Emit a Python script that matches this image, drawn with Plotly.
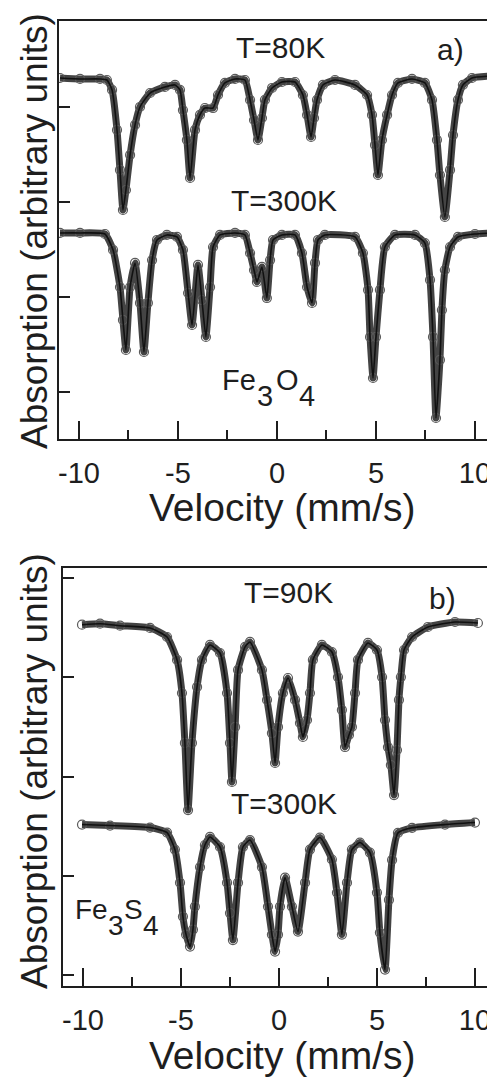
import plotly.graph_objects as go

# ---------------- data ----------------
# Panel a) Fe3O4, T = 80 K
v_a80 = [-10.96, -9.95, -8.94, -8.59, -8.33, -8.08, -7.93, -7.78, -7.63, -7.42, -7.17, -6.92,
         -6.41, -5.66, -5.15, -4.90, -4.75, -4.55, -4.39, -4.14, -3.89, -3.64, -3.23, -2.98,
         -2.63, -2.12, -1.62, -1.36, -1.16, -0.96, -0.76, -0.61, -0.25, 0.25, 0.91, 1.31,
         1.52, 1.72, 1.87, 2.02, 2.32, 2.93, 3.94, 4.55, 4.80, 4.95, 5.10, 5.30, 5.56, 5.81,
         6.11, 6.82, 7.47, 7.83, 8.08, 8.23, 8.48, 8.74, 8.89, 9.14, 9.39, 9.85, 10.86]
a_a80 = [4.305, 4.295, 4.295, 4.284, 4.179, 3.758, 3.337, 2.916, 3.126, 3.495, 3.811, 4.000,
         4.147, 4.211, 4.232, 4.179, 3.968, 3.653, 3.253, 3.758, 3.916, 3.989, 3.989, 4.126,
         4.253, 4.295, 4.284, 4.074, 3.863, 3.653, 3.884, 4.074, 4.200, 4.263, 4.263, 4.126,
         3.916, 3.684, 3.884, 4.074, 4.232, 4.284, 4.232, 4.126, 3.916, 3.600, 3.284, 3.653,
         3.916, 4.126, 4.253, 4.295, 4.253, 4.074, 3.653, 3.284, 2.842, 3.337, 3.705, 4.074,
         4.232, 4.305, 4.326]

# Panel a) Fe3O4, T = 300 K
v_a300 = [-10.96, -9.95, -8.69, -8.28, -7.93, -7.78, -7.63, -7.42, -7.17, -6.92, -6.72, -6.52,
          -6.31, -6.06, -5.56, -5.05, -4.75, -4.49, -4.29, -3.99, -3.79, -3.59, -3.38, -3.23,
          -2.88, -2.12, -1.62, -1.36, -1.16, -1.01, -0.76, -0.51, -0.35, -0.20, 0.25, 0.91,
          1.26, 1.52, 1.77, 1.92, 2.07, 2.42, 3.94, 4.34, 4.60, 4.70, 4.85, 5.00, 5.20, 5.45,
          5.96, 6.97, 7.47, 7.73, 7.88, 8.03, 8.23, 8.33, 8.48, 8.74, 9.14, 10.00, 10.86]
a_a300 = [2.674, 2.674, 2.663, 2.495, 2.105, 1.758, 1.442, 2.105, 2.358, 1.937, 1.421, 1.937,
          2.389, 2.600, 2.653, 2.632, 2.495, 2.042, 1.705, 2.337, 1.968, 1.579, 2.105, 2.526,
          2.653, 2.674, 2.653, 2.463, 2.284, 2.158, 2.316, 1.989, 2.389, 2.600, 2.653, 2.653,
          2.463, 2.105, 1.937, 2.358, 2.600, 2.653, 2.632, 2.463, 2.074, 1.579, 1.147, 1.579,
          2.074, 2.526, 2.653, 2.653, 2.568, 2.179, 1.579, 0.726, 1.337, 1.863, 2.284, 2.526,
          2.632, 2.663, 2.674]

# Panel b) Fe3S4, T = 90 K
v_b90 = [-10.05, -9.13, -8.11, -6.58, -5.71, -5.20, -4.95, -4.80, -4.64, -4.44, -4.18, -3.93,
         -3.52, -3.01, -2.65, -2.50, -2.40, -2.24, -2.09, -1.73, -1.48, -0.87, -0.61, -0.36,
         -0.20, -0.05, 0.20, 0.46, 0.82, 1.07, 1.22, 1.43, 1.58, 1.73, 2.19, 2.70, 3.01, 3.21,
         3.37, 3.57, 3.72, 3.88, 4.03, 4.54, 5.00, 5.26, 5.41, 5.56, 5.71, 5.87, 6.02, 6.12,
         6.22, 6.38, 6.79, 7.60, 8.98, 10.15]
a_b90 = [4.529, 4.539, 4.519, 4.496, 4.405, 4.174, 3.841, 3.338, 2.662, 3.338, 3.902, 4.174,
         4.325, 4.244, 3.841, 3.338, 2.945, 3.499, 4.073, 4.305, 4.355, 4.073, 3.771, 3.438,
         3.136, 3.499, 3.841, 3.992, 3.771, 3.539, 3.398, 3.569, 3.841, 4.174, 4.325, 4.254,
         4.002, 3.670, 3.297, 3.418, 3.499, 3.841, 4.174, 4.345, 4.274, 4.002, 3.569, 3.297,
         3.116, 2.813, 3.267, 3.771, 4.002, 4.274, 4.405, 4.506, 4.556, 4.546]

# Panel b) Fe3S4, T = 300 K
v_b300 = [-10.05, -8.62, -6.58, -5.71, -5.31, -5.05, -4.90, -4.74, -4.54, -4.39, -4.29, -4.03,
          -3.78, -3.52, -3.01, -2.65, -2.50, -2.35, -2.09, -1.84, -1.48, -0.87, -0.56, -0.36,
          -0.20, -0.05, 0.05, 0.31, 0.66, 0.97, 1.33, 1.58, 2.09, 2.70, 2.96, 3.21, 3.47, 3.72,
          4.13, 4.64, 5.00, 5.15, 5.41, 5.61, 5.77, 6.07, 6.79, 8.47, 10.00]
a_b300 = [2.516, 2.506, 2.486, 2.435, 2.264, 1.931, 1.589, 1.408, 1.287, 1.458, 1.690, 2.088,
          2.310, 2.391, 2.290, 1.931, 1.625, 1.353, 1.931, 2.290, 2.360, 2.088, 1.690, 1.408,
          1.237, 1.408, 1.690, 1.982, 1.690, 1.438, 1.931, 2.264, 2.385, 2.164, 1.831, 1.408,
          1.931, 2.264, 2.335, 2.234, 1.831, 1.428, 1.055, 1.757, 2.160, 2.432, 2.483, 2.516,
          2.536]

x_tickvals = [-10, -5, 0, 5, 10]
x_ticktext = ["-10", "-5", "0", "5", "10"]
ya_tickvals = [1, 2, 3, 4]
yb_tickvals = [1, 2, 3, 4, 5]

panel_labels = ["a)", "b)"]
temps_a = ["T=80K", "T=300K"]
temps_b = ["T=90K", "T=300K"]
x_title = "Velocity (mm/s)"
y_title = "Absorption (arbitrary units)"

# ---------------- figure ----------------
# the page body has an 8 px margin, so the figure is drawn 8 px smaller
OFF = 8
W, H = 495 - OFF, 1077 - OFF
INK = "#1e1e1e"
FONT = "Liberation Sans, Arial, Helvetica, sans-serif"


def px(x, y):
    """screen pixel of the reference -> paper fraction"""
    return (x - OFF) / W, 1 - (y - OFF) / H


fig = go.Figure()


def add_spectrum(v, a, xa, ya):
    # dense band of measured points
    fig.add_trace(go.Scatter(x=v, y=a, xaxis=xa, yaxis=ya, mode="lines",
                             line=dict(color="#444444", width=7, shape="spline",
                                       smoothing=0.5),
                             hoverinfo="skip", showlegend=False))
    # measured points (open circles)
    fig.add_trace(go.Scatter(x=v, y=a, xaxis=xa, yaxis=ya, mode="markers",
                             marker=dict(symbol="circle-open", size=9,
                                         color="#5a5a5a", line=dict(width=1.2)),
                             showlegend=False))
    # fit
    fig.add_trace(go.Scatter(x=v, y=a, xaxis=xa, yaxis=ya, mode="lines",
                             line=dict(color="#111111", width=1.6, shape="spline",
                                       smoothing=0.5),
                             showlegend=False))


add_spectrum(v_a80, a_a80, "x", "y")
add_spectrum(v_a300, a_a300, "x", "y")
add_spectrum(v_b90, a_b90, "x2", "y2")
add_spectrum(v_b300, a_b300, "x2", "y2")

x0a, y1a = px(59, 21)
x1a, y0a = px(492, 439)
x0b, y1b = px(63, 568)
x1b, y0b = px(493, 986)

xcommon = dict(showline=True, linewidth=2, linecolor=INK, mirror=True,
               ticks="inside", ticklen=18, tickwidth=2, tickcolor=INK,
               tickvals=x_tickvals, ticktext=x_ticktext, ticklabelstandoff=7,
               tickfont=dict(family=FONT, size=29, color=INK),
               minor=dict(dtick=2.5, tick0=0, ticks="inside", ticklen=9,
                          tickwidth=2, tickcolor=INK),
               showgrid=False, zeroline=False, fixedrange=True)
ycommon = dict(showline=True, linewidth=2, linecolor=INK, mirror=True,
               ticks="inside", ticklen=11, tickwidth=2, tickcolor=INK,
               showticklabels=False, showgrid=False, zeroline=False, fixedrange=True)

fig.update_layout(
    width=W, height=H,
    margin=dict(l=0, r=0, t=0, b=0),
    paper_bgcolor="white", plot_bgcolor="white",
    showlegend=False,
    xaxis=dict(domain=[x0a, x1a], range=[-11.01, 10.86], anchor="y", **xcommon),
    yaxis=dict(domain=[y0a, y1a], range=[0.505, 4.905], anchor="x",
               tickvals=ya_tickvals, **ycommon),
    xaxis2=dict(domain=[x0b, x1b], range=[-11.02, 10.92], anchor="y2", **xcommon),
    yaxis2=dict(domain=[y0b, y1b], range=[0.89, 5.10], anchor="x2",
                tickvals=yb_tickvals, **ycommon),
)

ann = []


def text(s, x, y, size=30, xanchor="center", angle=0):
    X, Y = px(x, y)
    ann.append(dict(text=s, x=X, y=Y, xref="paper", yref="paper", showarrow=False,
                    xanchor=xanchor, yanchor="middle", textangle=angle,
                    font=dict(family=FONT, size=size, color=INK)))


# panel a
text(temps_a[0], 280, 47)
text(panel_labels[0], 450, 49)
text(temps_a[1], 284, 200)
text("Fe", 220, 380, size=29, xanchor="left")
text("3", 255, 396, size=29, xanchor="left")
text("O", 274, 380, size=29, xanchor="left")
text("4", 297, 396, size=29, xanchor="left")
# panel b
text(temps_b[0], 288, 592)
text(panel_labels[1], 442, 598)
text(temps_b[1], 284, 803)
text("Fe", 73, 909, size=28, xanchor="left")
text("3", 106, 925, size=28, xanchor="left")
text("S", 122, 909, size=28, xanchor="left")
text("4", 141, 925, size=28, xanchor="left")
# axis titles
text(x_title, 282, 508, size=39)
text(x_title, 282, 1055, size=39)
text(y_title, 34, 231, size=37, angle=-90)
text(y_title, 34, 771, size=37, angle=-90)

fig.update_layout(annotations=ann)

fig.write_html("out.html")
